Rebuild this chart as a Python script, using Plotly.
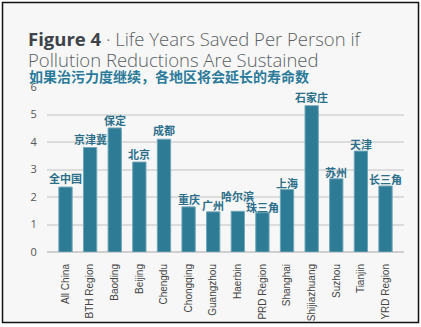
import plotly.graph_objects as go

categories = ["All China", "BTH Region", "Baoding", "Beijing", "Chengdu", "Chongqing",
              "Guangzhou", "Haerbin", "PRD Region", "Shanghai", "Shijiazhuang",
              "Suzhou", "Tianjin", "YRD Region"]
cn_labels = ["全中国", "京津冀", "保定", "北京", "成都", "重庆", "广州", "哈尔滨",
             "珠三角", "上海", "石家庄", "苏州", "天津", "长三角"]
years_saved = [2.36, 3.80, 4.51, 3.27, 4.10, 1.64, 1.46, 1.48, 1.43, 2.27, 5.32, 2.66, 3.67, 2.40]
y_ticks = [0, 1, 2, 3, 4, 5, 6]

# label vertical offsets (px) above bar tops
label_shift = [9, 9, 8, 8, 9, 8, 7, 15, 6, 7, 9, 7, 7, 7]

W, H = 421, 327
ML, MR, MT, MB = 47, 17, 87, 75
PW, PH = W - ML - MR, H - MT - MB

def px(xp):
    return (xp - ML) / PW

def py(yp):
    return (H - MB - yp) / PH

fig = go.Figure()
fig.add_trace(go.Bar(
    x=categories, y=years_saved,
    marker=dict(color="#2d7b94", line=dict(color="#6fa6b9", width=1)),
    hoverinfo="x+y",
))

annotations = []
for c, lab, v, s in zip(categories, cn_labels, years_saved, label_shift):
    annotations.append(dict(
        x=c, y=v, xref="x", yref="y", text=lab, showarrow=False,
        yanchor="middle", yshift=s,
        font=dict(family="Noto Sans CJK SC", size=11, color="#2b6f8a", weight="bold"),
    ))

annotations.append(dict(
    xref="paper", yref="paper", x=px(26), y=py(38.5), xanchor="left", yanchor="middle",
    showarrow=False,
    text="<b>Figure 4</b><span style='color:#5a5f63;font-weight:300'> · Life Years Saved Per Person if</span>",
    font=dict(family="Open Sans", size=18.5, color="#3d4349"),
))
annotations.append(dict(
    xref="paper", yref="paper", x=px(26), y=py(59.5), xanchor="left", yanchor="middle",
    showarrow=False,
    text="Pollution Reductions Are Sustained",
    font=dict(family="Open Sans", size=18.5, color="#5a5f63", weight=300),
))
annotations.append(dict(
    xref="paper", yref="paper", x=px(27), y=py(76.5), xanchor="left", yanchor="middle",
    showarrow=False,
    text="如果治污力度继续，各地区将会延长的寿命数",
    font=dict(family="Noto Sans CJK SC", size=14, color="#2a7a99", weight="bold"),
))

shapes = [dict(
    type="rect", xref="paper", yref="paper", layer="below",
    x0=px(2.5), x1=px(418.5), y0=py(322.5), y1=py(2.5),
    line=dict(color="#111", width=1.5), fillcolor="#f7f7f7",
)]

fig.update_layout(
    width=W, height=H,
    margin=dict(l=ML, r=MR, t=MT, b=MB, autoexpand=False),
    paper_bgcolor="white", plot_bgcolor="rgba(0,0,0,0)",
    bargap=0.46, showlegend=False,
    annotations=annotations, shapes=shapes,
    xaxis=dict(
        tickangle=-90, tickfont=dict(family="Liberation Sans", size=10, color="#444"),
        ticks="outside", ticklen=7, tickcolor="rgba(0,0,0,0)",
        showgrid=False, showline=False, fixedrange=True, automargin=False,
    ),
    yaxis=dict(
        range=[0, 6], tickvals=y_ticks,
        tickfont=dict(family="Open Sans", size=11, color="#555"),
        ticks="outside", ticklen=7, tickcolor="rgba(0,0,0,0)",
        showgrid=True, gridcolor="#dcdcdc", gridwidth=2,
        zeroline=True, zerolinecolor="#cfcfcf", zerolinewidth=2,
        showline=False, fixedrange=True, automargin=False,
    ),
)

fig.write_html("out.html")
